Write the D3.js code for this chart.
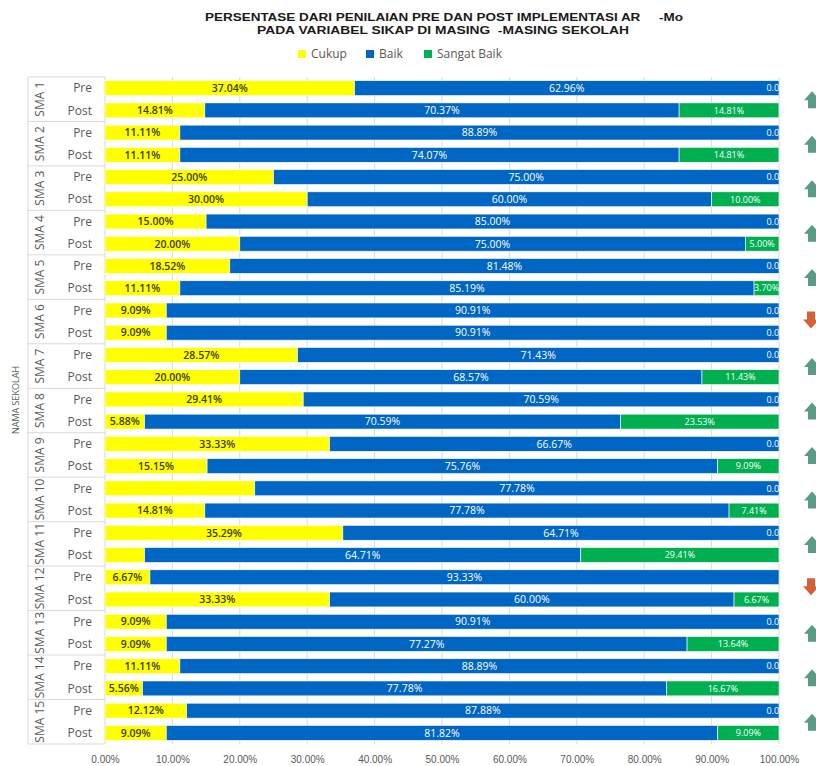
<!DOCTYPE html>
<html>
<head>
<meta charset="utf-8">
<script src="https://cdn.jsdelivr.net/npm/d3@7"></script>
<style>
  body { margin: 0; background: #fff; }
  svg { display: block; font-family: "Open Sans", "Liberation Sans", sans-serif; }
</style>
</head>
<body>
<div id="chart"></div>
<script>
// data
const schools = ["SMA 1","SMA 2","SMA 3","SMA 4","SMA 5","SMA 6","SMA 7","SMA 8",
                 "SMA 9","SMA 10","SMA 11","SMA 12","SMA 13","SMA 14","SMA 15"];
const phases = ["Pre","Post"];
const seriesNames = ["Cukup","Baik","Sangat Baik"];
const seriesColors = ["#ffff00","#0066c4","#00b050"];
// one value per row, rows go Pre, Post for each school
const cukup = [37.04,14.81, 11.11,11.11, 25.00,30.00, 15.00,20.00, 18.52,11.11,
               9.09,9.09, 28.57,20.00, 29.41,5.88, 33.33,15.15, 22.22,14.81,
               35.29,5.88, 6.67,33.33, 9.09,9.09, 11.11,5.56, 12.12,9.09];
const baik = [62.96,70.37, 88.89,74.07, 75.00,60.00, 85.00,75.00, 81.48,85.19,
              90.91,90.91, 71.43,68.57, 70.59,70.59, 66.67,75.76, 77.78,77.78,
              64.71,64.71, 93.33,60.00, 90.91,77.27, 88.89,77.78, 87.88,81.82];
const sangatBaik = [0,14.81, 0,14.81, 0,10.00, 0,5.00, 0,3.70,
                    0,0, 0,11.43, 0,23.53, 0,9.09, 0,7.41,
                    0,29.41, 0,6.67, 0,13.64, 0,16.67, 0,9.09];
// labels that the original leaves out
const hiddenLabels = ["SMA 10|Pre|Cukup","SMA 11|Post|Cukup","SMA 12|Pre|Sangat Baik"];
// trend arrow per school
const trend = ["up","up","up","up","up","down","up","up","up","up","up","down","up","up","up"];
const xTicks = [0,10,20,30,40,50,60,70,80,90,100];

const W = 816, H = 766;
const mLeft = 105, mRight = 779, mTop = 77, mBottom = 744;

const rows = [];
schools.forEach((s, i) => {
  phases.forEach((p, j) => {
    const k = i * 2 + j;
    rows.push({ id: s + "|" + p, school: s, phase: p,
                vals: [cukup[k], baik[k], sangatBaik[k]] });
  });
});

const svg = d3.select("#chart").append("svg")
  .attr("width", W).attr("height", H);

const x = d3.scaleLinear().domain([0, 100]).range([mLeft, mRight]);
const y = d3.scaleBand().domain(rows.map(d => d.id)).range([mTop, mBottom]).paddingInner(0.33).paddingOuter(0.165);
const yGroup = d3.scaleBand().domain(schools).range([mTop, mBottom]);

// title (stretched a bit like the original)
svg.append("text").attr("x", 205).attr("y", 21)
  .style("font-family", "Liberation Sans, Arial, sans-serif").style("font-weight", "bold")
  .style("font-size", "11px").attr("fill", "#1a1a1a")
  .attr("xml:space", "preserve")
  .attr("textLength", 478).attr("lengthAdjust", "spacingAndGlyphs")
  .text("PERSENTASE DARI PENILAIAN PRE DAN POST IMPLEMENTASI AR     -Mo");
svg.append("text").attr("x", 257).attr("y", 34)
  .style("font-family", "Liberation Sans, Arial, sans-serif").style("font-weight", "bold")
  .style("font-size", "11px").attr("fill", "#1a1a1a")
  .attr("xml:space", "preserve")
  .attr("textLength", 372).attr("lengthAdjust", "spacingAndGlyphs")
  .text("PADA VARIABEL SIKAP DI MASING  -MASING SEKOLAH");

// legend
const legendX = [298, 366, 424];
const legend = svg.append("g").selectAll("g").data(seriesNames).enter().append("g")
  .attr("transform", (d, i) => "translate(" + legendX[i] + ",48)");
legend.append("rect").attr("width", 8).attr("height", 8).attr("y", 2)
  .attr("fill", (d, i) => seriesColors[i]);
legend.append("text").attr("x", 13).attr("y", 10).style("font-size", "12px")
  .attr("fill", "#595959").text(d => d);

// gridlines + x axis
const xAxis = d3.axisBottom(x).tickValues(xTicks).tickFormat(d => d.toFixed(2) + "%").tickSize(0);
const gx = svg.append("g").attr("transform", "translate(0," + (mBottom + 10) + ")").call(xAxis);
gx.select(".domain").remove();
gx.selectAll("text").style("font-size", "10px").attr("fill", "#595959").attr("dy", "0.6em");

svg.append("g").selectAll("line").data(xTicks.slice(1)).enter().append("line")
  .attr("x1", d => x(d)).attr("x2", d => x(d)).attr("y1", mTop).attr("y2", mBottom)
  .attr("stroke", "#d9d9d9").attr("stroke-width", 1);

// category table on the left
const tbl = svg.append("g").attr("stroke", "#d9d9d9").attr("stroke-width", 1);
tbl.selectAll("line.sep").data(d3.range(schools.length + 1)).enter().append("line")
  .attr("x1", 28).attr("x2", mLeft)
  .attr("y1", i => mTop + i * yGroup.bandwidth()).attr("y2", i => mTop + i * yGroup.bandwidth());
tbl.append("line").attr("x1", 28).attr("x2", 28).attr("y1", mTop).attr("y2", mBottom);
tbl.append("line").attr("x1", mLeft).attr("x2", mLeft).attr("y1", mTop).attr("y2", mBottom);

svg.append("g").selectAll("text").data(rows).enter().append("text")
  .attr("x", 92).attr("y", d => y(d.id) + y.bandwidth() / 2).attr("dy", "0.35em")
  .attr("text-anchor", "end").style("font-size", "12px").attr("fill", "#595959")
  .text(d => d.phase);

svg.append("g").selectAll("text").data(schools).enter().append("text")
  .attr("transform", d => "translate(44," + (yGroup(d) + yGroup.bandwidth() / 2) + ") rotate(-90)")
  .attr("text-anchor", "middle").style("font-size", "12px").attr("fill", "#595959")
  .text(d => d);

svg.append("text").attr("transform", "translate(19,400) rotate(-90)")
  .attr("text-anchor", "middle").style("font-size", "9px").attr("fill", "#595959")
  .text("NAMA SEKOLAH");

// stacked bars
const clip = svg.append("defs").append("clipPath").attr("id", "plotclip");
clip.append("rect").attr("x", mLeft).attr("y", 0).attr("width", mRight - mLeft).attr("height", H);

const segs = [];
rows.forEach(r => {
  let acc = 0;
  r.vals.forEach((v, i) => {
    segs.push({ row: r, series: i, x0: acc, x1: acc + v, v: v });
    acc += v;
  });
});

const plot = svg.append("g").attr("clip-path", "url(#plotclip)");
plot.selectAll("rect").data(segs.filter(d => d.v > 0)).enter().append("rect")
  .attr("x", d => x(d.x0)).attr("width", d => x(d.x1) - x(d.x0))
  .attr("y", d => y(d.row.id)).attr("height", y.bandwidth())
  .attr("fill", d => seriesColors[d.series])
  .attr("stroke", "#ffffff").attr("stroke-width", 0.6);

plot.selectAll("text").data(segs.filter(d => hiddenLabels.indexOf(d.row.id + "|" + seriesNames[d.series]) < 0))
  .enter().append("text")
  .attr("x", d => x((d.x0 + d.x1) / 2)).attr("y", d => y(d.row.id) + y.bandwidth() / 2)
  .attr("dy", "0.36em").attr("text-anchor", "middle")
  .style("font-size", d => d.series === 2 ? "9px" : "10.5px")
  .style("font-weight", d => d.series === 0 ? "600" : "normal")
  .attr("fill", d => d.series === 0 ? "#3a3a00" : "#ffffff")
  .text(d => d.v.toFixed(2) + "%");

// trend arrows at the right edge
const upPath = "M0,-7 L-8,2 L-4,2 L-4,10 L4,10 L4,2 L8,2 Z";
svg.append("g").selectAll("path").data(schools).enter().append("path")
  .attr("transform", (d, i) => {
    const cy = yGroup(d) + yGroup.bandwidth() / 2;
    return trend[i] === "up" ? "translate(812," + (cy - 1) + ")" : "translate(811," + cy + ") rotate(180)";
  })
  .attr("d", upPath)
  .attr("fill", (d, i) => trend[i] === "up" ? "#5a9a86" : "#d4603a");
</script>
</body>
</html>
